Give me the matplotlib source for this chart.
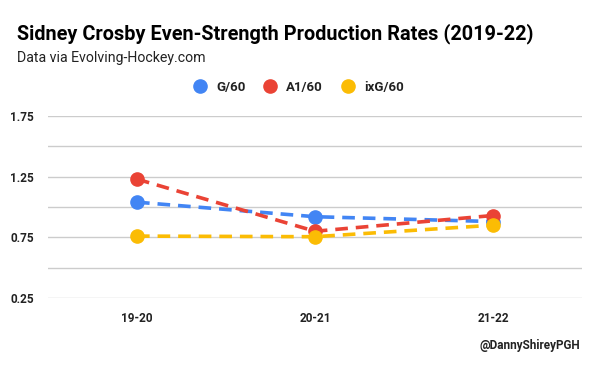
import numpy as np
import matplotlib.pyplot as plt

seasons = ['19-20', '20-21', '21-22']
g60 = [1.04, 0.92, 0.88]
a160 = [1.23, 0.80, 0.93]
ixg60 = [0.76, 0.755, 0.85]

series = [('G/60', g60, '#4285F4'), ('A1/60', a160, '#EA4335'), ('ixG/60', ixg60, '#FBBC04')]

plt.rcParams['font.family'] = ['Roboto', 'DejaVu Sans']

fig = plt.figure(figsize=(6, 3.71), dpi=100)
ax = fig.add_axes([0.08, 0.197, 0.89, 0.49])

x = np.arange(len(seasons))
for name, vals, col in series:
    ax.plot(x, vals, color=col, lw=2.6, linestyle=(0, (3.5, 2.2)), marker='o',
            markersize=9.5, label=name, zorder=3)

ax.set_xlim(-0.5, 2.5)
ax.set_ylim(0.25, 1.75)
ax.set_yticks([0.25, 0.5, 0.75, 1.0, 1.25, 1.5, 1.75])
ax.set_yticklabels(['0.25', '', '0.75', '', '1.25', '', '1.75'])
ax.set_xticks(x)
ax.set_xticklabels(seasons)
ax.grid(axis='y', color='#cccccc', lw=1)
ax.set_axisbelow(True)
for s in ax.spines.values():
    s.set_visible(False)
ax.tick_params(length=0, labelsize=8.5, labelcolor='#222222', pad=10)
for lab in ax.get_xticklabels() + ax.get_yticklabels():
    lab.set_fontweight('bold')

fig.text(0.028, 0.91, 'Sidney Crosby Even-Strength Production Rates (2019-22)',
         fontsize=14.3, fontweight='bold', color='#000000', va='center')
fig.text(0.028, 0.843, 'Data via Evolving-Hockey.com', fontsize=10.2, color='#222222', va='center')
fig.legend(loc='center', bbox_to_anchor=(0.5, 0.765), ncol=3, frameon=False,
           handlelength=0.6, handletextpad=0.9, columnspacing=1.6, markerscale=1.0,
           prop={'weight': 'bold', 'size': 9.5}, labelcolor='#222222')
leg = fig.legends[0]
for h in leg.legend_handles:
    h.set_linestyle('None')
fig.text(0.967, 0.068, '@DannyShireyPGH', fontsize=8.5, fontweight='bold',
         color='#222222', ha='right', va='center')

fig.savefig('out.png', dpi=100)
